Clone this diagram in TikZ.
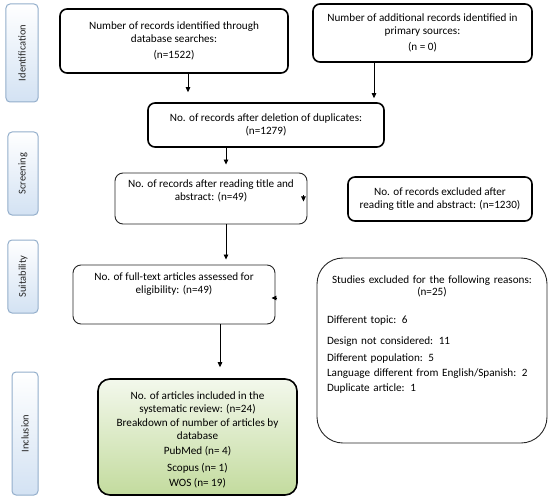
\documentclass[tikz,border=0pt]{standalone}
\usepackage{fontspec}
\setmainfont{Carlito}
\usepackage{xcolor}
\usetikzlibrary{positioning,arrows.meta,calc}

\definecolor{stageline}{HTML}{93AECB}
\definecolor{stagefill}{HTML}{D3E2F3}
\definecolor{incltop}{HTML}{F3F8EC}
\definecolor{inclbot}{HTML}{C3DB9E}

\begin{document}
\begin{tikzpicture}[x=1bp, y=-1bp, >={Triangle[length=5bp,width=4.5bp]},
    every node/.style={font=\fontsize{11.2}{13}\selectfont, align=center, inner sep=2bp},
    boldbox/.style={draw, line width=1.6bp, rounded corners=7bp},
    thinbox/.style={draw=black!85, line width=0.9bp, rounded corners=8bp},
    stage/.style={draw=stageline, line width=1bp, rounded corners=4bp,
                  top color=white, bottom color=stagefill, rotate=90,
                  text=black!85, font=\fontsize{10.5}{12}\selectfont},
    link/.style={->, line width=0.8bp}]
  \useasboundingbox (0,0) rectangle (550,500);

  % phases on the left
  \node[stage, minimum width=98bp, minimum height=32bp] (sid) at (22,53) {Identification};
  \node[stage, minimum width=83bp, minimum height=30bp] (sscr) at (23,173.5) {Screening};
  \node[stage, minimum width=73bp, minimum height=30bp] (ssuit) at (23,276.5) {Suitability};
  \node[stage, minimum width=123bp, minimum height=26bp] (sincl) at (25,433.5) {Inclusion};

  % identification
  \node[boldbox, minimum width=228bp, minimum height=64bp] (db)
      at (174,41) {Number of records identified through\\database searches:\\[3bp](n=1522)};
  \node[boldbox, minimum width=219bp, minimum height=58bp] (extra)
      at (422.5,33) {Number of additional records identified in\\primary sources:\\[3bp](n = 0)};
  \node[boldbox, minimum width=236bp, minimum height=44bp] (dedup)
      at (266,125) {No. of records after deletion of duplicates:\\(n=1279)};

  % screening
  \node[thinbox, minimum width=192bp, minimum height=51bp] (title)
      at (211,198.5) {No. of records after reading title and\\abstract: (n=49)\\[4bp]};
  \node[boldbox, minimum width=184bp, minimum height=44bp] (excl)
      at (440,199) {No. of records excluded after\\reading title and abstract: (n=1230)};

  % suitability
  \node[thinbox, minimum width=202bp, minimum height=59bp] (full)
      at (174,294.5) {No. of full-text articles assessed for\\eligibility: (n=49)\\[10bp]};
  \node[thinbox, rounded corners=26bp, minimum width=230bp, minimum height=185bp,
        text width=210bp, align=left] (reasons)
      at (432,350.5) {\centering Studies excluded for the following reasons:\\(n=25)\par
        \raggedright\vspace{15bp}
        Different topic: 6\\[8bp]
        Design not considered: 11\\[4bp]
        Different population: 5\\[2bp]
        Language different from English/Spanish: 2\\[2bp]
        Duplicate article: 1\\[21bp]\mbox{}};

  % inclusion
  \node[boldbox, rounded corners=12bp, top color=incltop, bottom color=inclbot,
        minimum width=199bp, minimum height=116bp] (incl)
      at (197.5,437) {\rule{0pt}{13bp}No. of articles included in the\\systematic review: (n=24)\\[1bp]
        Breakdown of number of articles by\\database\\[2bp]
        PubMed (n= 4)\\[4bp]Scopus (n= 1)\\[2bp]WOS (n= 19)};

  \draw[link, shorten >=10bp] ([xshift=14bp]db.south) -- ([xshift=14bp]db.south |- dedup.north);
  \draw[link, shorten >=4bp] ([xshift=-48.5bp]extra.south) -- ([xshift=-48.5bp]extra.south |- dedup.north);
  \draw[link, shorten >=8bp] ([xshift=-40bp]dedup.south) -- ([xshift=-40bp]dedup.south |- title.north);
  \draw[link, shorten >=5bp] ([xshift=15bp]title.south) -- ([xshift=15bp]title.south |- full.north);
  \draw[link, shorten >=11bp] ([xshift=46bp]full.south) -- ([xshift=46bp]full.south |- incl.north);

  % stray tips on the right edges
  \draw[link] ([xshift=-4bp,yshift=3bp]title.east) -- ([xshift=-4bp,yshift=-3bp]title.east);
  \draw[link] ([xshift=2bp,yshift=-3.5bp]full.east) -- ([xshift=-4bp,yshift=-3.5bp]full.east);
\end{tikzpicture}
\end{document}
